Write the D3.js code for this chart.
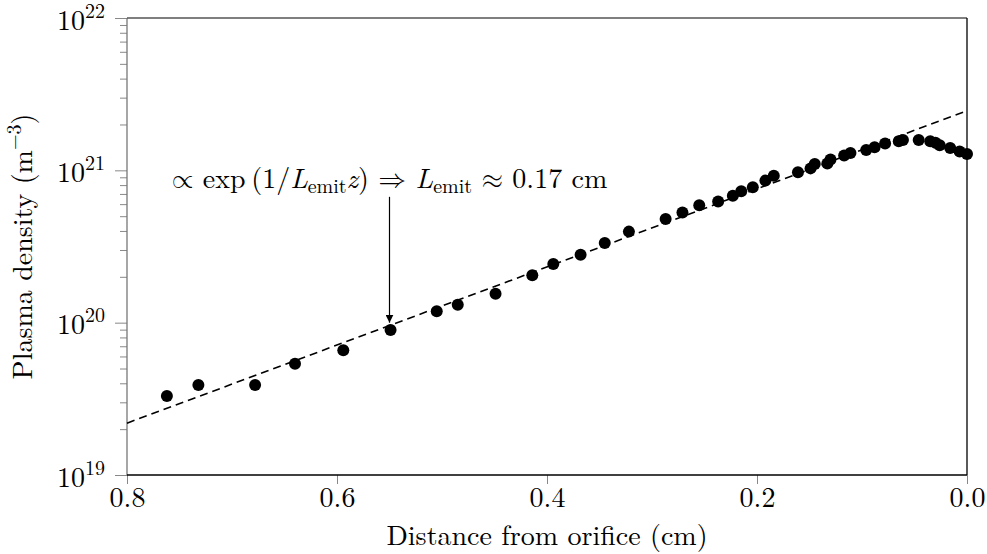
<!DOCTYPE html>
<html>
<head>
<meta charset="utf-8">
<script src="https://cdn.jsdelivr.net/npm/d3@7"></script>
<style>
  html, body { margin: 0; padding: 0; background: #fff; }
</style>
</head>
<body>
<svg id="chart" width="987" height="554"></svg>
<script>
// ---- data ----
const distance = [0.762, 0.732, 0.678, 0.640, 0.594, 0.549, 0.505, 0.485, 0.449, 0.414,
  0.394, 0.368, 0.345, 0.322, 0.287, 0.271, 0.255, 0.237, 0.223, 0.215,
  0.204, 0.192, 0.184, 0.161, 0.149, 0.145, 0.133, 0.130, 0.117, 0.111,
  0.096, 0.088, 0.078, 0.065, 0.061, 0.046, 0.035, 0.030, 0.026, 0.016, 0.007, 0.000];
const density = [3.30e19, 3.90e19, 3.90e19, 5.38e19, 6.60e19, 8.95e19, 1.19e20, 1.31e20, 1.55e20, 2.05e20,
  2.43e20, 2.79e20, 3.33e20, 3.96e20, 4.80e20, 5.28e20, 5.90e20, 6.25e20, 6.82e20, 7.29e20,
  7.75e20, 8.56e20, 9.23e20, 9.71e20, 1.03e21, 1.10e21, 1.11e21, 1.18e21, 1.25e21, 1.30e21,
  1.36e21, 1.42e21, 1.50e21, 1.55e21, 1.58e21, 1.58e21, 1.55e21, 1.52e21, 1.46e21, 1.40e21, 1.33e21, 1.28e21];
const fitDistance = [0.8, 0.0];
const fitDensity = [2.19e19, 2.46e21];
const xTicks = [0.8, 0.6, 0.4, 0.2, 0.0];
const xTickLabels = ["0.8", "0.6", "0.4", "0.2", "0.0"];
const yMajorTicks = [1e19, 1e20, 1e21, 1e22];
const yExponents = ["19", "20", "21", "22"];
const annotationX = 0.55;
const arrowFrom = 6.7e20;
const arrowTo = 1.0e20;

// ---- layout ----
const FONT = "'Latin Modern Roman', 'CMU Serif', 'Liberation Serif', serif";
const SYM = "'Latin Modern Math', 'FreeSerif', 'Latin Modern Roman', serif";
const svg = d3.select("#chart");
const L = 127, R = 967, T = 18, B = 475;
const x = d3.scaleLinear().domain([0.8, 0.0]).range([L, R]);
const y = d3.scaleLog().domain([1e19, 1e22]).range([B, T]);

const minorTicks = [];
for (let e = 19; e < 22; e++) for (let m = 2; m <= 9; m++) minorTicks.push(m * Math.pow(10, e));

// y minor ticks
const gMinor = svg.append("g").attr("transform", `translate(${L},0)`)
  .call(d3.axisLeft(y).tickValues(minorTicks).tickSize(7).tickFormat(""));
gMinor.select(".domain").remove();
gMinor.selectAll("line").attr("stroke", "#888").attr("stroke-width", 1);

// y major ticks
const gY = svg.append("g").attr("transform", `translate(${L},0)`)
  .call(d3.axisLeft(y).tickValues(yMajorTicks).tickSize(12).tickFormat(""));
gY.select(".domain").remove();
gY.attr("font-family", null);
gY.selectAll("line").attr("stroke", "#888").attr("stroke-width", 1);
gY.selectAll(".tick").each(function(d, i) {
  const t = d3.select(this).append("text")
    .attr("x", -22).attr("y", 11)
    .attr("text-anchor", "end")
    .attr("fill", "#000")
    .style("font-family", FONT)
    .style("font-size", "28px");
  t.append("tspan").text("10");
  t.append("tspan").attr("dy", -12).style("font-size", "20px").text(yExponents[i]);
});

// x ticks
const gX = svg.append("g").attr("transform", `translate(0,${B})`)
  .call(d3.axisBottom(x).tickValues(xTicks).tickSize(9).tickFormat((d, i) => xTickLabels[i]));
gX.select(".domain").remove();
gX.attr("font-family", null);
gX.selectAll("line").attr("stroke", "#888").attr("stroke-width", 1);
gX.selectAll("text").attr("y", 32).attr("dy", null).attr("fill", "#000")
  .style("font-family", FONT).style("font-size", "28px");

// axis frame
svg.append("line").attr("x1", L).attr("x2", L).attr("y1", T).attr("y2", B).attr("stroke", "#777").attr("stroke-width", 1.3);
svg.append("line").attr("x1", L).attr("x2", R).attr("y1", T).attr("y2", T).attr("stroke", "#555").attr("stroke-width", 1.3);
svg.append("line").attr("x1", L).attr("x2", R).attr("y1", B).attr("y2", B).attr("stroke", "#000").attr("stroke-width", 1.3);
svg.append("line").attr("x1", R).attr("x2", R).attr("y1", T).attr("y2", B).attr("stroke", "#000").attr("stroke-width", 1.3);

// fit line
const fitData = fitDistance.map((d, i) => [d, fitDensity[i]]);
svg.append("path").datum(fitData)
  .attr("d", d3.line().x(d => x(d[0])).y(d => y(d[1])))
  .attr("fill", "none").attr("stroke", "#000").attr("stroke-width", 1.6)
  .attr("stroke-dasharray", "8,5");

// points
const pts = distance.map((d, i) => [d, density[i]]);
svg.append("g").selectAll("circle").data(pts).join("circle")
  .attr("cx", d => x(d[0])).attr("cy", d => y(d[1])).attr("r", 6).attr("fill", "#000");

// annotation arrow
const defs = svg.append("defs");
defs.append("marker").attr("id", "arr").attr("viewBox", "0 0 10 10")
  .attr("refX", 10).attr("refY", 5).attr("markerWidth", 8).attr("markerHeight", 8)
  .attr("markerUnits", "userSpaceOnUse").attr("orient", "auto")
  .append("path").attr("d", "M0,0 L10,5 L0,10 Z").attr("fill", "#000");
svg.append("line")
  .attr("x1", x(annotationX)).attr("x2", x(annotationX))
  .attr("y1", y(arrowFrom)).attr("y2", y(arrowTo))
  .attr("stroke", "#000").attr("stroke-width", 1.2).attr("marker-end", "url(#arr)");

// annotation text
const ann = svg.append("text").attr("x", x(annotationX)).attr("y", y(arrowFrom) - 9)
  .attr("text-anchor", "middle")
  .style("font-family", FONT).style("font-size", "28px");
ann.append("tspan").style("font-family", SYM).text("\u221D");
ann.append("tspan").text(" exp\u2009(1/");
ann.append("tspan").style("font-style", "italic").text("L");
ann.append("tspan").attr("dy", 5).style("font-size", "20px").text("emit");
ann.append("tspan").attr("dy", -5).style("font-style", "italic").text("z");
ann.append("tspan").text(") ");
ann.append("tspan").style("font-family", SYM).text("\u21D2");
ann.append("tspan").text(" ");
ann.append("tspan").style("font-style", "italic").text("L");
ann.append("tspan").attr("dy", 5).style("font-size", "20px").text("emit");
ann.append("tspan").attr("dy", -5).text(" ");
ann.append("tspan").style("font-family", SYM).text("\u2248");
ann.append("tspan").text(" 0.17 cm");

// axis labels
svg.append("text").attr("x", (L + R) / 2).attr("y", 545).attr("text-anchor", "middle")
  .style("font-family", FONT).style("font-size", "28px").text("Distance from orifice (cm)");
const yl = svg.append("text").attr("transform", `translate(32,${(T + B) / 2}) rotate(-90)`)
  .attr("text-anchor", "middle")
  .style("font-family", FONT).style("font-size", "28px");
yl.append("tspan").text("Plasma density (m");
yl.append("tspan").attr("dy", -11).style("font-size", "20px").text("\u22123");
yl.append("tspan").attr("dy", 11).text(")");
</script>
</body>
</html>
